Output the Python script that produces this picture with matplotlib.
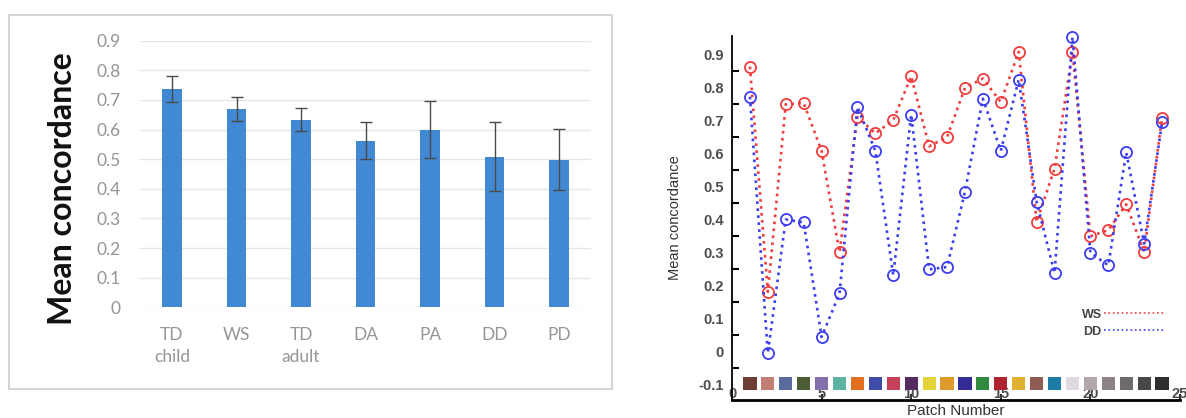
import matplotlib
matplotlib.use("Agg")
import numpy as np
from matplotlib import pyplot as plt
from matplotlib.patches import Rectangle

# left panel: group means
groups = ["TD\nchild", "WS", "TD\nadult", "DA", "PA", "DD", "PD"]
group_mean = [0.737, 0.669, 0.633, 0.563, 0.599, 0.509, 0.498]
group_err = [0.043, 0.040, 0.039, 0.064, 0.096, 0.118, 0.103]

# right panel: per-patch concordance
patch = list(range(1, 25))
ws = [0.862, 0.180, 0.748, 0.752, 0.607, 0.300, 0.709, 0.660, 0.700, 0.833,
      0.621, 0.648, 0.798, 0.826, 0.755, 0.907, 0.392, 0.553, 0.907, 0.348,
      0.367, 0.445, 0.300, 0.708]
dd = [0.771, -0.006, 0.399, 0.390, 0.043, 0.175, 0.740, 0.607, 0.230, 0.717,
      0.248, 0.255, 0.483, 0.765, 0.607, 0.823, 0.452, 0.237, 0.952, 0.298,
      0.260, 0.602, 0.326, 0.693]
patch_colors = ["#6e3d36", "#c27d75", "#5a6c9e", "#4c5c33", "#8270aa", "#5db3a2",
                "#e0701f", "#3f4ba8", "#c7405a", "#542a61", "#e3d43a", "#df9a2c",
                "#342b94", "#2f8a3f", "#b1222f", "#dfb12f", "#8e5c55", "#1d7ca3",
                "#e0d8e2", "#b2a8aa", "#8c8384", "#6e6a6b", "#484848", "#2e2e2e"]
patch_row = -0.097

W, H = 1186, 418
fig = plt.figure(figsize=(W / 100, H / 100), dpi=100)

# frame round the left chart
fig.add_artist(Rectangle((9 / W, 1 - 389 / H), 603 / W, 374 / H,
                         transform=fig.transFigure, fill=False,
                         edgecolor="#d4d4d4", linewidth=1.5))

# ---- left: bar chart ----
ax1 = fig.add_axes([139.75 / W, 110.7 / H, 451.5 / W, 266.6 / H])
x = np.arange(len(groups))
ax1.bar(x, group_mean, width=0.3, color="#4189d3", zorder=2)
ax1.errorbar(x, group_mean, yerr=group_err, fmt="none", ecolor="#4a4a4a",
             elinewidth=1, capsize=4, capthick=1, zorder=3)
ax1.set_xlim(-0.5, len(groups) - 0.5)
ax1.set_ylim(0, 0.9)
ax1.set_yticks(np.arange(0, 0.91, 0.1))
ax1.set_yticklabels(["0"] + ["%.1f" % v for v in np.arange(0.1, 0.91, 0.1)])
ax1.set_xticks(x)
ax1.set_xticklabels(groups, linespacing=1.5)
for lab in ax1.get_xticklabels() + ax1.get_yticklabels():
    lab.set_fontfamily("Lato")
    lab.set_fontsize(12.5)
    lab.set_color("#959595")
ax1.tick_params(axis="both", length=0)
ax1.tick_params(axis="y", pad=14)
ax1.tick_params(axis="x", pad=14)
ax1.grid(axis="y", color="#e6e6e6", linewidth=1, zorder=0)
for s in ax1.spines.values():
    s.set_visible(False)
ax1.set_ylabel("Mean concordance", fontfamily="Lato", fontsize=23,
               fontweight="bold", color="#111111")
ax1.yaxis.set_label_coords(-0.14, 0.444)

# ---- right: per-patch lines ----
ax2 = fig.add_axes([732 / W, 18 / H, 448 / W, 364 / H])
ax2.plot(patch, ws, color="#f03c3c", linestyle=":", linewidth=1.9,
         marker="o", markersize=8, markerfacecolor="none",
         markeredgewidth=1.3, label="WS", zorder=3, clip_on=False)
ax2.plot(patch, dd, color="#3c3cf0", linestyle=":", linewidth=1.9,
         marker="o", markersize=8, markerfacecolor="none",
         markeredgewidth=1.3, label="DD", zorder=3, clip_on=False)
ax2.scatter(patch, [patch_row] * len(patch), marker="s", s=90,
            c=patch_colors, linewidths=0, zorder=2)
ax2.set_xlim(0, 25)
ax2.set_ylim(-0.148, 0.955)
ax2.set_xticks([0, 5, 10, 15, 20, 25])
ax2.set_yticks(np.arange(-0.1, 0.91, 0.1))
ax2.set_yticklabels(["-0.1", "0"] + ["%.1f" % v for v in np.arange(0.1, 0.91, 0.1)])
ax2.set_yticks(np.arange(-0.05, 0.86, 0.1), minor=True)
ax2.tick_params(axis="y", which="major", length=0, pad=6, labelsize=10.5,
                labelcolor="#4d4d4d")
ax2.tick_params(axis="y", which="minor", direction="in", length=5, width=1.5)
ax2.tick_params(axis="x", direction="in", length=4, width=1.2, pad=-9,
                labelsize=10.5, labelcolor="#4d4d4d")
for lab in ax2.get_xticklabels() + ax2.get_yticklabels():
    lab.set_fontfamily("Liberation Sans")
    lab.set_fontweight("bold")
ax2.spines["top"].set_visible(False)
ax2.spines["right"].set_visible(False)
ax2.spines["left"].set_linewidth(1.3)
ax2.spines["bottom"].set_linewidth(2)
ax2.set_xlabel("Patch Number", fontfamily="Liberation Sans", fontsize=11,
               color="#333333", labelpad=2)
ax2.set_ylabel("Mean concordance", fontfamily="Liberation Sans", fontsize=10.5,
               color="#333333", labelpad=12)
leg = ax2.legend(loc="lower right", bbox_to_anchor=(0.99, 0.14), frameon=False,
                 markerfirst=False, handlelength=4.8, handletextpad=0.2,
                 labelspacing=0.4, prop={"family": "Liberation Sans",
                                         "size": 9, "weight": "bold"})
for h in leg.legend_handles:
    h.set_marker("")
    h.set_linewidth(1.2)
for t in leg.get_texts():
    t.set_color("#444444")

fig.savefig("out.png", dpi=100)
